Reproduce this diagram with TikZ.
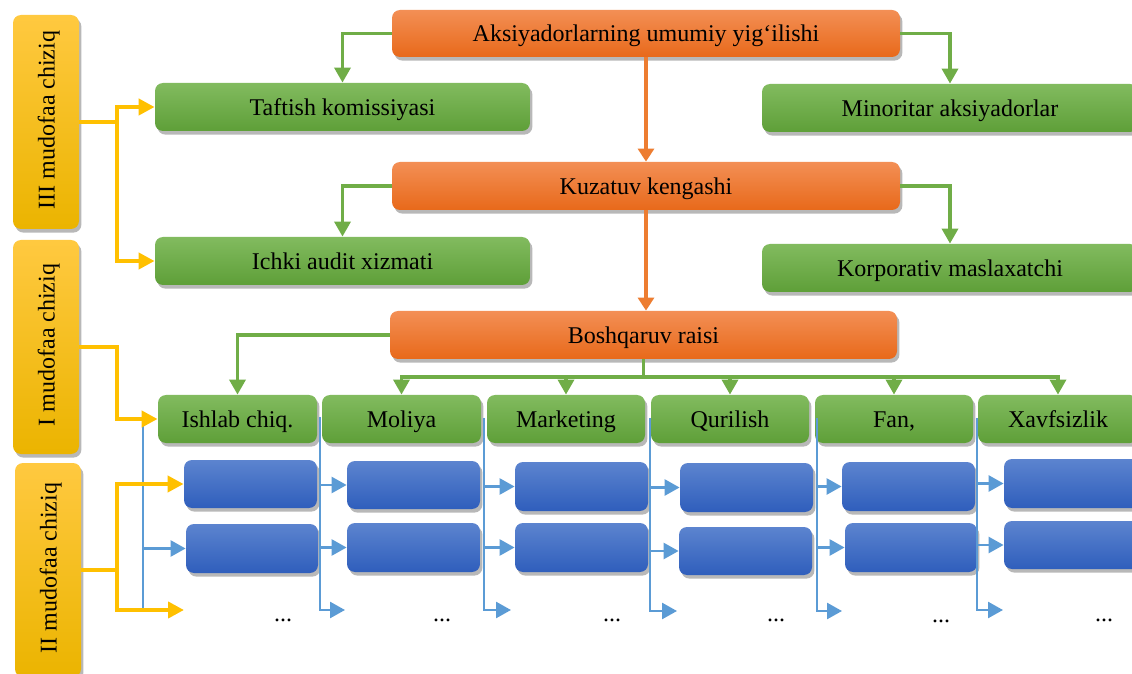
\documentclass[tikz,border=0pt]{standalone}
\usepackage{fontspec}
\setmainfont{Liberation Serif}
\usetikzlibrary{arrows.meta,fit,shadows}
\definecolor{glinec}{HTML}{70AD47}
\definecolor{blinec}{HTML}{5B9BD5}
\definecolor{olinec}{HTML}{ED7D31}
\definecolor{ylinec}{HTML}{FFC000}
\definecolor{gtop}{HTML}{82BB5F}
\definecolor{gbot}{HTML}{5E9F38}
\definecolor{otop}{HTML}{F38F55}
\definecolor{obot}{HTML}{E8691A}
\definecolor{btop}{HTML}{5C84CF}
\definecolor{bbot}{HTML}{2F5EBC}
\definecolor{ytop}{HTML}{FFC940}
\definecolor{ybot}{HTML}{EBB400}
\tikzset{
  boxbase/.style={inner sep=0pt, rounded corners=4pt, text height=8.5pt, text depth=0pt,
    drop shadow={shadow xshift=1.2pt, shadow yshift=-1.8pt, opacity=0.28, fill=black}},
  wh/.style 2 args={minimum width=#1*0.5pt, minimum height=#2*0.5pt},
  gbox/.style={boxbase, top color=gtop, bottom color=gbot},
  obox/.style={boxbase, top color=otop, bottom color=obot},
  bbox/.style={boxbase, top color=btop, bottom color=bbot},
  ybar/.style={boxbase, top color=ytop, bottom color=ybot},
  vtext/.style={rotate=90, text height=8.5pt, text depth=0pt, inner sep=0pt, xshift=1pt},
  garrow/.style={draw=glinec, line width=1.7pt, -{Triangle[length=7.5pt,width=8pt]}},
  gline/.style={draw=glinec, line width=1.7pt},
  oarrow/.style={draw=olinec, line width=1.7pt, -{Triangle[length=6.5pt,width=8pt]}},
  yarrow/.style={draw=ylinec, line width=2pt, -{Triangle[length=8pt,width=8pt]}},
  barrow/.style={draw=blinec, line width=1.3pt, -{Triangle[length=7.5pt,width=8pt]}},
  bline/.style={draw=blinec, line width=1.3pt},
  dotsnode/.style={anchor=base, inner sep=0pt},
}
\begin{document}
\begin{tikzpicture}[x=0.5pt,y=-0.5pt, font=\fontsize{12}{14}\selectfont]
\useasboundingbox (0,0) rectangle (1132,674);
\fill[white] (0,0) rectangle (1132,674);
\clip (0,0) rectangle (1132,674);

% side bars
\node[ybar, fit={(13,15) (79,229)}] (b3) {};
\node[ybar, fit={(13,240) (79,454)}] (b1) {};
\node[ybar, fit={(15,463) (81,677)}] (b2) {};
\node[vtext] (t3) at (b3.center) {III mudofaa chiziq};
\node[vtext] (t1) at (b1.center) {I mudofaa chiziq};
\node[vtext] (t2) at (b2.center) {II mudofaa chiziq};

% orange boxes
\node[obox, wh={508}{47}] (top) at (646,33.5) {Aksiyadorlarning umumiy yig‘ilishi};
\node[obox, wh={508}{48}] (kuz) at (646,186) {Kuzatuv kengashi};
\node[obox, wh={507}{48}] (bosh) at (643.5,335) {Boshqaruv raisi};

% green side boxes
\node[gbox, wh={375}{48}] (taf) at (342.5,107) {Taftish komissiyasi};
\node[gbox, wh={375}{48}] (ich) at (342.5,261) {Ichki audit xizmati};
\node[gbox, wh={376}{48}] (min) at (950,108) {Minoritar aksiyadorlar};
\node[gbox, wh={376}{48}] (kor) at (950,268) {Korporativ maslaxatchi};

% departments
\node[gbox, wh={159}{48}] (ish) at (237.5,419) {Ishlab chiq.};
\node[gbox, wh={159}{48}] (mol) at (401.5,419) {Moliya};
\node[gbox, wh={158}{48}] (mar) at (566,419) {Marketing};
\node[gbox, wh={158}{48}] (qur) at (730,419) {Qurilish};
\node[gbox, wh={158}{48}] (fan) at (894,419) {Fan,};
\node[gbox, wh={160}{48}] (xav) at (1058,419) {Xavfsizlik};

% blue boxes
\node[bbox, fit={(184,460) (317,508)}] (c1a) {};
\node[bbox, fit={(186,524) (318,573)}] (c1b) {};
\node[bbox, fit={(347,461) (480,509)}] (c2a) {};
\node[bbox, fit={(347,523) (480,572)}] (c2b) {};
\node[bbox, fit={(515,462) (648,511)}] (c3a) {};
\node[bbox, fit={(515,523) (648,572)}] (c3b) {};
\node[bbox, fit={(680,463) (813,512)}] (c4a) {};
\node[bbox, fit={(679,527) (812,575)}] (c4b) {};
\node[bbox, fit={(842,462) (975,511)}] (c5a) {};
\node[bbox, fit={(845,523) (977,572)}] (c5b) {};
\node[bbox, fit={(1004,459) (1140,508)}] (c6a) {};
\node[bbox, fit={(1004,521) (1140,569)}] (c6b) {};

% dots
\node[dotsnode] (d1) at (283,621) {...};
\node[dotsnode] (d2) at (442,621) {...};
\node[dotsnode] (d3) at (612,621) {...};
\node[dotsnode] (d4) at (776,621) {...};
\node[dotsnode] (d5) at (941,622) {...};
\node[dotsnode] (d6) at (1104,621) {...};

% green connectors
\draw[garrow] (top.west) -| (taf.north);
\draw[garrow] (top.east) -| (min.north);
\draw[garrow] (kuz.west) -| (ich.north);
\draw[garrow] (kuz.east) -| (kor.north);
\draw[garrow] (bosh.west) -| (ish.north);
\coordinate (bus) at (644,377);
\draw[gline] (bosh.south) -- (bosh.south |- bus);
\draw[garrow] (bus) -| (mol.north);
\draw[garrow] (bus) -| (xav.north);
\foreach \n in {mar,qur,fan} \draw[garrow] (\n.north |- bus) -- (\n.north);

% orange connectors
\draw[oarrow] (top.south) -- (kuz.north);
\draw[oarrow] (kuz.south) -- (kuz.south |- bosh.north);

% blue connectors
\coordinate (v0t) at (143,417); \coordinate (v0b) at (143,608);
\draw[bline] (v0t) -- (v0b);
\draw[barrow] (c1b.west -| v0t) -- (c1b.west);

\coordinate (v1t) at (320,417); \coordinate (e1) at (345,610);
\draw[barrow] (v1t) |- (e1);
\draw[barrow] (c2a.west -| v1t) -- (c2a.west);
\draw[barrow] (c2b.west -| v1t) -- (c2b.west);

\coordinate (v2t) at (484,418); \coordinate (e2) at (511,610);
\draw[barrow] (v2t) |- (e2);
\draw[barrow] (c3a.west -| v2t) -- (c3a.west);
\draw[barrow] (c3b.west -| v2t) -- (c3b.west);

\coordinate (v3t) at (650,418); \coordinate (e3) at (677,611);
\draw[barrow] (v3t) |- (e3);
\draw[barrow] (c4a.west -| v3t) -- (c4a.west);
\draw[barrow] (c4b.west -| v3t) -- (c4b.west);

\coordinate (v4t) at (817,418); \coordinate (e4) at (842,611);
\draw[barrow] (v4t) |- (e4);
\draw[barrow] (c5a.west -| v4t) -- (c5a.west);
\draw[barrow] (c5b.west -| v4t) -- (c5b.west);

\coordinate (v5t) at (977,418); \coordinate (e5) at (1003,610);
\draw[barrow] (v5t) |- (e5);
\draw[barrow] (c6a.west -| v5t) -- (c6a.west);
\draw[barrow] (c6b.west -| v5t) -- (c6b.west);

% yellow connectors
\coordinate (j3) at (117,122);
\draw[yarrow] (b3.east) -- (j3) |- (taf.west);
\draw[yarrow] (j3) |- (ich.west);
\coordinate (j1) at (117,347);
\draw[yarrow] (b1.east) -- (j1) |- (ish.west);
\coordinate (j2) at (117,570);
\coordinate (e0) at (184,610);
\draw[yarrow] (b2.east) -- (j2) |- (c1a.west);
\draw[yarrow] (j2) |- (e0);
\end{tikzpicture}
\end{document}
